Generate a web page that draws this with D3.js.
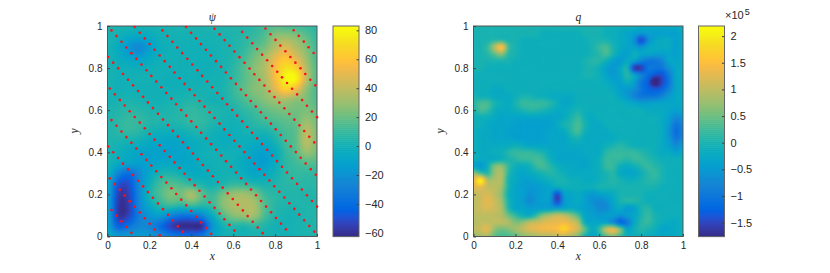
<!DOCTYPE html>
<html>
<head>
<meta charset="utf-8">
<script src="https://cdn.jsdelivr.net/npm/d3@7"></script>
<style>
html, body { margin:0; padding:0; background:#fff; }
svg { display:block; }
text { font-family:"Liberation Sans", Arial, sans-serif; font-size:10px; fill:#262626; }
.math { font-family:"Liberation Serif", serif; font-style:italic; font-size:11.5px; }
</style>
</head>
<body>
<svg id="fig" width="830" height="273"></svg>
<script>
// psi, rows from y=1 down to y=0, columns x=0..1
var psiGrid = [
[4,3,2,2,2,2,2,3,3,3,4,4,5,5,8,12,16,14,12,10,7],
[3,0,-5,-7,-5,0,1,1,1,2,2,3,4,7,10,16,28,30,26,18,9],
[2,-5,-17,-25,-13,-3,0,0,0,0,1,2,4,8,16,22,36,46,36,24,11],
[2,-3,-9,-13,-6,-1,0,0,0,0,0,2,5,12,22,32,50,60,48,30,13],
[2,0,-1,-2,-1,0,0,0,0,-1,0,2,7,16,26,36,56,72,66,36,15],
[2,0,0,1,1,0,-1,-1,0,0,1,2,8,16,24,34,56,80,80,40,15],
[2,0,0,0,0,0,0,0,1,2,2,3,10,18,26,30,48,66,54,28,14],
[1,2,3,2,1,0,2,3,5,3,1,2,8,14,20,26,32,34,28,24,15],
[3,5,7,6,4,3,4,6,9,7,5,3,3,8,12,18,22,24,22,24,19],
[4,7,10,9,6,5,5,6,9,9,5,2,1,3,8,12,15,18,20,30,22],
[4,7,9,7,2,-1,-1,0,3,5,1,-1,-1,1,3,3,8,14,18,38,24],
[4,3,1,-1,-5,-8,-9,-8,-4,-1,-1,-3,-2,-2,-3,-5,2,12,18,38,24],
[3,-1,-5,-9,-11,-11,-11,-10,-5,-1,1,0,0,-3,-9,-12,-5,9,16,30,22],
[3,-5,-9,-12,-11,-8,-7,-9,-7,-2,0,1,0,-5,-11,-13,-4,7,12,16,15],
[0,-26,-38,-24,-8,2,4,0,-5,-4,-1,1,1,-3,-8,-6,0,7,9,9,9],
[-4,-46,-50,-24,-2,12,16,13,8,3,0,4,9,8,4,2,4,7,7,7,7],
[-8,-54,-54,-26,2,14,24,22,34,18,10,22,30,32,26,11,7,5,5,5,5],
[-10,-56,-56,-26,-6,6,12,8,14,8,10,26,34,36,34,16,7,4,4,5,5],
[-10,-56,-54,-30,-18,-12,-26,-34,-34,-26,-4,14,26,30,32,14,5,2,2,4,5],
[-8,-44,-36,-26,-26,-38,-54,-62,-62,-60,-20,1,6,4,8,5,1,1,2,4,5],
[-4,-14,-15,-14,-16,-22,-30,-36,-38,-32,-12,-1,1,1,2,2,1,1,2,3,4]
];

// q in units of 1e4, rows from y=1 down to y=0, columns x=0..1
var qGrid = [
[0,0,0,0,0,0,0,0,0,0,0,0,0,0,0,0,0,0,0,-1,-1,-1,-1,-1,-2,-2,-2,-2,-2,-2,-1],
[0,0,0,0,0,0,0,0,0,0,-1,-1,-1,-1,-1,-1,0,0,0,-1,-1,-2,-3,-4,-5,-4,-4,-4,-4,-4,-2],
[0,0,0,1,1,0,0,-1,-1,-1,-1,-1,-1,-1,-1,-1,-1,0,0,0,-1,-2,-3,-6,-15,-7,-3,-2,-2,-4,-2],
[0,0,2,9,16,3,0,-1,-1,-1,-1,-1,-1,-1,-1,-1,-1,0,2,3,0,-2,-3,-4,-6,-3,-2,-2,-2,-4,-2],
[0,0,1,4,7,1,0,-1,-1,-1,-1,-1,-1,-1,-1,-1,-1,0,1,3,0,-3,-4,-1,-3,-3,-4,-4,-3,-4,-2],
[0,0,0,0,0,0,-1,-1,-1,-1,-1,-1,-1,-1,-1,-1,0,1,1,-1,-4,-5,-2,-4,-8,-10,-10,-8,-3,-3,-2],
[0,0,-1,-1,-1,-1,-1,-1,-1,-1,-1,-1,-1,-1,-1,-1,0,0,-1,-4,-5,-3,0,-16,-16,-10,-10,-10,-6,-3,-2],
[-1,-1,-1,-1,-1,-1,-1,-1,-1,-1,-1,-1,-1,-1,-1,-1,0,0,-1,-3,-5,-3,1,-3,-8,-11,-14,-14,-9,-3,-2],
[-1,-1,-1,-1,-1,-1,-1,-1,-1,-1,-1,-1,-1,-1,-1,-1,-1,-1,-1,-2,-3,-4,-1,-4,-10,-13,-21,-15,-10,-3,-2],
[-1,-1,-1,-2,-2,-1,-1,-1,-1,-1,-1,-1,-1,-1,-1,-1,-1,-1,-1,-1,-2,-4,-5,-6,-10,-12,-13,-12,-8,-3,-2],
[0,-1,-1,-2,-2,-2,-1,0,0,-1,-1,-2,-2,-2,-2,-1,-1,-1,-1,-1,-1,-3,-5,-8,-10,-10,-10,-8,-5,-3,-2],
[1,3,3,0,-1,-2,0,2,2,2,2,1,-1,-3,-2,-1,-1,-1,-1,-1,-1,-1,-2,-3,-4,-4,-3,-3,-3,-3,-2],
[0,3,2,-1,-2,-2,-1,0,1,1,0,-1,-2,-2,-1,0,-1,-1,-1,-1,-1,-1,-1,-1,-1,-2,-2,-2,-3,-4,-3],
[-1,-1,-1,-2,-3,-3,-3,-3,-3,-3,-3,-3,-3,-2,0,2,-1,-2,-1,-1,-1,-1,-1,-1,-1,-1,-1,-2,-4,-7,-5],
[-1,-1,-2,-3,-3,-3,-4,-4,-4,-4,-4,-4,-2,0,1,3,0,-2,-2,-1,-1,-1,-1,-1,-1,-1,-1,-2,-5,-10,-7],
[-1,-2,-2,-3,-3,-4,-4,-4,-4,-4,-4,-3,-3,-2,1,3,-1,-2,-2,-2,-1,-1,-1,-1,-1,-1,-1,-2,-6,-11,-8],
[-1,-2,-2,-3,-3,-3,-4,-4,-4,-4,-4,-3,-3,-3,-1,0,-2,-2,-2,-2,-2,-1,-1,-1,-1,-1,-1,-2,-5,-10,-7],
[-1,-2,-2,-2,-2,-2,-1,-2,-3,-3,-3,-3,-3,-3,-2,-2,-2,-2,-2,-1,0,1,0,-1,-1,-1,-1,-2,-4,-7,-4],
[-1,-2,-2,-1,-1,1,2,2,2,1,0,-2,-3,-3,-3,-3,-2,-2,-2,1,2,2,2,2,1,0,-1,-2,-2,-4,-2],
[-1,-2,-2,-2,-1,0,1,2,2,3,2,-1,-3,-3,-3,-3,-3,-2,-1,2,2,2,1,2,2,1,0,-1,-1,-1,-1],
[-3,-5,-1,6,7,2,-1,-2,-1,2,3,1,-1,-2,-2,-3,-3,-2,-1,2,2,-1,-2,-1,1,2,1,0,-1,-1,-1],
[8,3,1,7,9,1,-2,-3,-2,-1,0,1,0,-1,-2,-2,-2,-2,-1,0,1,-2,-3,-3,-1,1,2,0,-1,-1,-1],
[12,22,9,9,9,0,-2,-4,-4,-3,-2,-1,0,0,-1,-1,-2,-2,-1,0,1,0,-1,-1,0,1,1,0,-1,-1,-1],
[12,13,10,10,8,0,-3,-4,-5,-5,-4,-3,-2,-1,-1,-1,-1,-1,0,0,0,0,0,0,0,0,0,-1,-1,-1,-1],
[10,11,12,10,7,-1,-3,-4,-6,-5,-4,-4,-15,-4,-3,-2,-4,-5,-4,-3,-2,0,0,0,0,-1,-1,-1,-1,-1,-1],
[10,11,13,11,8,0,-3,-4,-7,-5,-4,-5,-15,-5,-3,-2,-4,-6,-7,-6,-3,0,1,1,0,-1,-1,-1,-1,-1,-1],
[10,11,12,11,9,1,-3,-3,-4,-4,-4,-4,-4,-3,-2,-3,-4,-5,-7,-7,-4,-2,-5,-4,0,1,-1,-1,-1,-1,-1],
[10,10,10,10,9,5,2,-1,-2,2,7,9,11,10,7,3,-3,-4,-5,-4,-4,-6,-4,-3,0,2,0,-1,-1,-1,-1],
[9,10,10,10,10,9,6,7,10,11,12,13,13,14,12,9,-2,-3,-3,-4,-7,-12,-10,-3,1,2,0,-1,-2,-2,-1],
[10,11,13,7,5,6,8,10,12,13,14,14,15,18,14,11,4,-2,2,11,14,7,-3,-1,1,0,-1,-3,-3,-2,-1],
[7,8,8,4,3,3,4,6,7,8,9,9,10,9,8,5,-1,-3,-1,3,5,2,-1,-1,-1,-1,-2,-2,-2,-2,-1]
];

// red tracer points, one row per particle line
var dotsX = [
[.130,.154,.178,.201,.225,.249,.273,.297,.320,.344,.368,.392,.416,.439,.463,.487,.511,.535,.558,.582,.606,.630,.654,.677,.701,.725,.749,.773,.796,.820,.844,.868,.892,.915,.939,.963,.987],
[.262,.286,.310,.333,.357,.381,.405,.429,.452,.476,.500,.524,.548,.571,.595,.619,.643,.667,.690,.714,.738,.762,.786,.809,.833,.857,.881,.905,.928,.952,.976,1.000],
[.375,.399,.423,.446,.470,.494,.518,.542,.565,.589,.613,.637,.661,.684,.708,.732,.756,.780,.803,.827,.851,.875,.899,.922,.946,.970,.994],
[.511,.535,.559,.582,.606,.630,.654,.678,.701,.725,.749,.773,.797,.820,.844,.868,.892,.916,.939,.963,.987],
[.643,.667,.691,.714,.738,.762,.786,.810,.833,.857,.881,.905,.929,.952,.976,1.000],
[.754,.778,.802,.825,.849,.873,.897,.921,.944,.968,.992],
[.889,.913,.937,.960,.984],
[.019,.043,.067,.090,.114,.138,.162,.186,.209,.233,.257,.281,.305,.328,.352,.376,.400,.424,.447,.471,.495,.519,.543,.566,.590,.614,.638,.662,.685,.709,.733,.757,.781,.804,.828,.852],
[.003,.027,.051,.074,.098,.122,.146,.170,.193,.217,.241,.265,.289,.312,.336,.360,.384,.408,.431,.455,.479,.503,.527,.550,.574,.598,.622,.646,.669,.693,.717,.741],
[.011,.035,.059,.082,.106,.130,.154,.178,.201,.225,.249,.273,.297,.320,.344,.368,.392,.416,.439,.463,.487,.511,.535,.558,.582,.606],
[.019,.043,.067,.090,.114,.138,.162,.186,.209,.233,.257,.281,.305,.328,.352,.376,.400,.424,.447,.471,.495],
[.003,.027,.051,.074,.098,.122,.146,.170,.193,.217,.241,.265,.289,.312,.336,.360],
[.011,.035,.059,.082,.106,.130,.154,.178,.201,.225,.249],
[.019,.043,.067,.090,.114]
];
var dotsY = [
[.995,.968,.941,.914,.887,.860,.833,.806,.779,.752,.725,.698,.671,.644,.617,.590,.563,.536,.509,.482,.455,.428,.401,.374,.347,.320,.293,.266,.239,.212,.185,.158,.131,.104,.077,.050,.023],
[.979,.952,.925,.898,.871,.844,.817,.790,.763,.736,.709,.682,.655,.628,.601,.574,.547,.520,.493,.466,.439,.412,.385,.358,.331,.304,.277,.250,.223,.196,.169,.142],
[.995,.968,.941,.914,.887,.860,.833,.806,.779,.752,.725,.698,.671,.644,.617,.590,.563,.536,.509,.482,.455,.428,.401,.374,.347,.320,.293],
[.987,.960,.933,.906,.879,.852,.825,.798,.771,.744,.717,.690,.663,.636,.609,.582,.555,.528,.501,.474,.447],
[.972,.945,.918,.891,.864,.837,.810,.783,.756,.729,.702,.675,.648,.621,.594,.567],
[.988,.961,.934,.907,.880,.853,.826,.799,.772,.745,.718],
[.980,.953,.926,.899,.872],
[.979,.952,.925,.898,.871,.844,.817,.790,.763,.736,.709,.682,.655,.628,.601,.574,.547,.520,.493,.466,.439,.412,.385,.358,.331,.304,.277,.250,.223,.196,.169,.142,.115,.088,.061,.034],
[.853,.826,.799,.772,.745,.718,.691,.664,.637,.610,.583,.556,.529,.502,.475,.448,.421,.394,.367,.340,.313,.286,.259,.232,.205,.178,.151,.124,.097,.070,.043,.016],
[.703,.676,.649,.622,.595,.568,.541,.514,.487,.460,.433,.406,.379,.352,.325,.298,.271,.244,.217,.190,.163,.136,.109,.082,.055,.028],
[.553,.526,.499,.472,.445,.418,.391,.364,.337,.310,.283,.256,.229,.202,.175,.148,.121,.094,.067,.040,.013],
[.427,.400,.373,.346,.319,.292,.265,.238,.211,.184,.157,.130,.103,.076,.049,.022],
[.276,.249,.222,.195,.168,.141,.114,.087,.060,.033,.006],
[.126,.099,.072,.045,.018]
];

var axisTicks = [0, 0.2, 0.4, 0.6, 0.8, 1];
var psiTicks = [-60, -40, -20, 0, 20, 40, 60, 80];
var qTicks = [-1.5, -1, -0.5, 0, 0.5, 1, 1.5, 2];
var psiRange = [-62.5, 83];
var qRange = [-17.6, 21.9];

// matlab parula, every other level
var parula = [
[.2081,.1663,.5292],[.2123,.2138,.6270],[.1959,.2645,.7279],[.1253,.3242,.8303],[.0117,.3875,.8820],
[.0165,.4266,.8786],[.0498,.4586,.8641],[.0723,.4887,.8467],[.0793,.5200,.8312],[.0641,.5570,.8240],
[.0343,.5966,.8199],[.0239,.6287,.8038],[.0228,.6535,.7768],[.0384,.6743,.7436],[.0843,.6928,.7062],
[.1453,.7098,.6646],[.2178,.7250,.6193],[.3022,.7376,.5712],[.3953,.7459,.5244],[.4871,.7491,.4840],
[.5709,.7485,.4494],[.6473,.7456,.4188],[.7184,.7411,.3905],[.7858,.7356,.3633],[.8507,.7299,.3360],
[.9139,.7258,.3063],[.9739,.7314,.2666],[.9990,.7653,.2164],[.9880,.8066,.1794],[.9697,.8481,.1475],
[.9589,.8949,.1132],[.9661,.9514,.0755],[.9763,.9831,.0538]
].map(function(c){ return d3.rgb(c[0]*255, c[1]*255, c[2]*255).toString(); });

var svg = d3.select('#fig');
var defs = svg.append('defs');

// light blur to hide the 3px shading tiles, the plain tiles stay under the edge
var filt = defs.append('filter').attr('id', 'soft')
    .attr('filterUnits', 'userSpaceOnUse')
    .attr('x', 0).attr('y', 0).attr('width', 830).attr('height', 273)
    .attr('color-interpolation-filters', 'sRGB');
filt.append('feGaussianBlur').attr('in', 'SourceGraphic').attr('stdDeviation', 1.2).attr('result', 'b1');
var merge = filt.append('feMerge');
merge.append('feMergeNode').attr('in', 'SourceGraphic');
merge.append('feMergeNode').attr('in', 'b1');

function colorScale(range) {
    var dom = parula.map(function(c, i){ return range[0] + (range[1]-range[0]) * i / (parula.length-1); });
    return d3.scaleLinear().domain(dom).range(parula).clamp(true);
}

// shading interp: catmull-rom between the grid nodes
function catmull(a, b, c, d, t) {
    return 0.5 * (2*b + (c-a)*t + (2*a-5*b+4*c-d)*t*t + (3*b-a-3*c+d)*t*t*t);
}
function sampleGrid(grid, u, v) {
    var n = grid.length - 1;
    var gx = u * n, gy = v * n;
    var i = Math.min(Math.floor(gy), n-1), j = Math.min(Math.floor(gx), n-1);
    var cl = function(k){ return Math.max(0, Math.min(n, k)); };
    var rows = [-1,0,1,2].map(function(r){
        var line = grid[cl(i+r)];
        return catmull(line[cl(j-1)], line[cl(j)], line[cl(j+1)], line[cl(j+2)], gx-j);
    });
    return catmull(rows[0], rows[1], rows[2], rows[3], gy-i);
}

function drawPanel(cfg) {
    var x = d3.scaleLinear().domain([0, 1]).range([cfg.left, cfg.left + 209.5]);
    var y = d3.scaleLinear().domain([0, 1]).range([236.5, 26]);
    var color = colorScale(cfg.range);
    var tiles = 70;
    var tile = d3.scaleBand().domain(d3.range(tiles)).range([0, 1]);
    var tw = x(tile.bandwidth()) - x(0);
    var th = y(0) - y(tile.bandwidth());

    var clipId = 'clip' + cfg.id;
    defs.append('clipPath').attr('id', clipId).append('rect')
        .attr('x', cfg.left).attr('y', 26).attr('width', 209.5).attr('height', 210.5);

    var cells = svg.append('g').attr('clip-path', 'url(#' + clipId + ')')
        .append('g').attr('filter', 'url(#soft)');
    var data = d3.cross(d3.range(tiles), d3.range(tiles)).map(function(p){
        var u = tile(p[0]) + tile.bandwidth()/2, v = tile(p[1]) + tile.bandwidth()/2;
        return {u: tile(p[0]), v: tile(p[1]), value: sampleGrid(cfg.grid, u, v)};
    });
    cells.selectAll('rect')
        .data(data)
        .enter()
        .append('rect')
        .attr('x', function(d){ return x(d.u); })
        .attr('y', function(d){ return y(1 - d.v); })
        .attr('width', tw + 0.5)
        .attr('height', th + 0.5)
        .attr('fill', function(d){ return color(d.value); });

    // box + inward ticks
    svg.append('rect').attr('x', cfg.left).attr('y', 26).attr('width', 209.5).attr('height', 210.5)
        .attr('fill', 'none').attr('stroke', '#555').attr('stroke-width', 1);
    var fmt = d3.format('~g');
    var ax = svg.append('g').attr('transform', 'translate(0,236.5)')
        .call(d3.axisBottom(x).tickValues(axisTicks).tickSize(-2.5).tickPadding(5).tickFormat(fmt));
    var ay = svg.append('g').attr('transform', 'translate(' + cfg.left + ',0)')
        .call(d3.axisLeft(y).tickValues(axisTicks).tickSize(-2.5).tickPadding(5).tickFormat(fmt));
    [ax, ay].forEach(function(a){
        a.select('.domain').remove();
        a.selectAll('line').attr('stroke', '#444');
        a.selectAll('text').style('font-family', '"Liberation Sans", sans-serif').style('font-size', '10px').attr('fill', '#333');
    });

    svg.append('text').attr('class', 'math').attr('x', x(0.5)).attr('y', 260)
        .attr('text-anchor', 'middle').text('x');
    svg.append('text').attr('class', 'math')
        .attr('transform', 'translate(' + (cfg.left - 30) + ',131) rotate(-90)')
        .attr('text-anchor', 'middle').text('y');
    svg.append('text').attr('class', 'math').attr('x', x(0.5)).attr('y', 21)
        .attr('text-anchor', 'middle').text(cfg.title);

    if (cfg.dotsX) {
        var pts = d3.merge(cfg.dotsX.map(function(line, k){
            return line.map(function(v, j){ return {x: v, y: cfg.dotsY[k][j]}; });
        }));
        svg.append('g').selectAll('circle')
            .data(pts)
            .enter()
            .append('circle')
            .attr('cx', function(d){ return x(d.x); })
            .attr('cy', function(d){ return y(d.y); })
            .attr('r', 1.3)
            .attr('fill', '#f8141c');
    }

    // colorbar
    var barY = d3.scaleLinear().domain(cfg.barDomain).range([236.5, 26]);
    var steps = d3.range(0, 106);
    var stepY = d3.scaleBand().domain(steps).range([236.5, 26]);
    svg.append('g').selectAll('rect')
        .data(steps)
        .enter()
        .append('rect')
        .attr('x', cfg.barLeft)
        .attr('y', function(d){ return stepY(d); })
        .attr('width', 26)
        .attr('height', stepY.bandwidth() + 0.6)
        .attr('fill', function(d){ return color(cfg.range[0] + (cfg.range[1]-cfg.range[0]) * (d + 0.5) / steps.length); });
    svg.append('rect').attr('x', cfg.barLeft).attr('y', 26).attr('width', 26).attr('height', 210.5)
        .attr('fill', 'none').attr('stroke', '#666').attr('stroke-width', 1);
    var ac = svg.append('g').attr('transform', 'translate(' + (cfg.barLeft + 26) + ',0)')
        .call(d3.axisRight(barY).tickValues(cfg.barTicks).tickSize(-2.5).tickPadding(6).tickFormat(fmt));
    ac.select('.domain').remove();
    ac.selectAll('line').attr('stroke', '#444');
    ac.selectAll('text').style('font-family', '"Liberation Sans", sans-serif').style('font-size', '11px').attr('fill', '#333');
}

drawPanel({id:'psi', left:107.5, barLeft:333, grid:psiGrid, range:psiRange, barDomain:psiRange,
    barTicks:psiTicks, title:'ψ', dotsX:dotsX, dotsY:dotsY});
drawPanel({id:'q', left:473.5, barLeft:698.5, grid:qGrid, range:qRange, barDomain:[qRange[0]/10, qRange[1]/10],
    barTicks:qTicks, title:'q'});

// colorbar exponent
var expo = svg.append('text').attr('x', 725).attr('y', 19).style('font-size', '11px');
expo.append('tspan').text('×10');
expo.append('tspan').attr('dx', 1).attr('dy', -4).style('font-size', '9px').text('5');
</script>
</body>
</html>
